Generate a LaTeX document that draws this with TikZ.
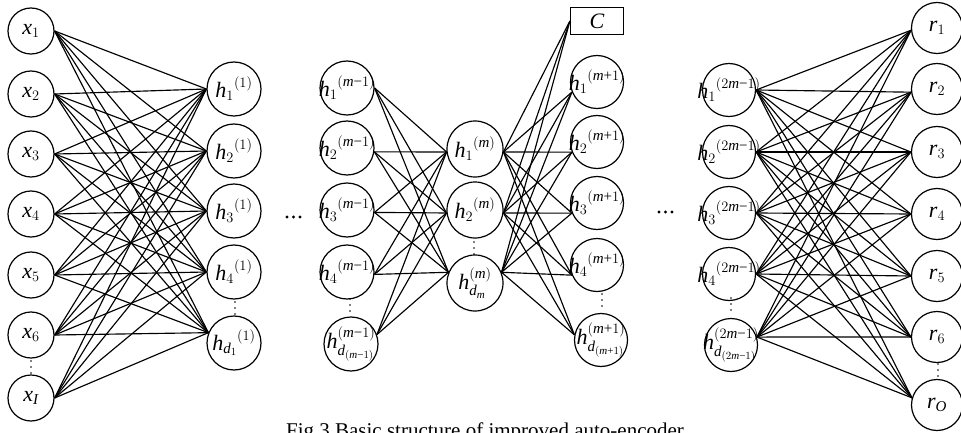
\documentclass[tikz,border=0pt]{standalone}
\usepackage{amsmath}
\usepackage{fontspec}
\setmainfont{Liberation Serif}
\DeclareMathSizes{22}{22}{15}{11}
\newcommand{\mneg}{\text{−}}
\newcommand{\mpl}{\text{+}}
\begin{document}
\begin{tikzpicture}[x=1pt,y=-1pt,
  neu/.style={circle, draw, line width=1.2pt, inner sep=0pt},
  xs/.style={neu, minimum size=46pt},
  hs/.style={neu, minimum size=54pt},
  hms/.style={neu, minimum size=56pt},
  hps/.style={neu, minimum size=53pt},
  rs/.style={neu, minimum size=51pt},
  lab/.style={font=\fontsize{22}{26}\selectfont, inner sep=0pt},
  conn/.style={line width=1.15pt},
  cbox/.style={draw, line width=1.2pt, minimum width=53pt, minimum height=27pt, inner sep=0pt, font=\fontsize{22}{26}\selectfont}]
\useasboundingbox (0,0) rectangle (961,433);
\clip (0,0) rectangle (961,433);
% input layer
\node[xs, label={[lab]center:$\mathit{x}_1$}] (x1) at (31,31) {};
\node[xs, label={[lab]center:$\mathit{x}_2$}] (x2) at (31,94) {};
\node[xs, label={[lab]center:$\mathit{x}_3$}] (x3) at (31,154) {};
\node[xs, label={[lab]center:$\mathit{x}_4$}] (x4) at (31,214) {};
\node[xs, label={[lab]center:$\mathit{x}_5$}] (x5) at (31,275) {};
\node[xs, label={[lab]center:$\mathit{x}_6$}] (x6) at (31,335) {};
\node[xs, label={[lab]center:$\mathit{x}_{\mathit{I}}$}] (x7) at (31,398) {};
% hidden layer 1
\node[hs, label={[lab]center:${\mathit{h}_1}^{(1)}$}] (a1) at (234,89) {};
\node[hs, label={[lab]center:${\mathit{h}_2}^{(1)}$}] (a2) at (234,151) {};
\node[hs, label={[lab]center:${\mathit{h}_3}^{(1)}$}] (a3) at (234,211) {};
\node[hs, label={[lab]center:${\mathit{h}_4}^{(1)}$}] (a4) at (234,272) {};
\node[hs, label={[lab]center:${\mathit{h}_{\mathit{d}_1}}^{(1)}$}] (a5) at (234,343) {};
% hidden layer m-1
\node[hs, label={[lab]center:${\mathit{h}_1}^{(\mathit{m}\mneg1)}$}] (b1) at (347,88) {};
\node[hs, label={[lab]center:${\mathit{h}_2}^{(\mathit{m}\mneg1)}$}] (b2) at (347,148) {};
\node[hs, label={[lab]center:${\mathit{h}_3}^{(\mathit{m}\mneg1)}$}] (b3) at (347,210) {};
\node[hs, label={[lab]center:${\mathit{h}_4}^{(\mathit{m}\mneg1)}$}] (b4) at (347,272) {};
\node[hs, label={[lab]center:$\mathit{h}_{\mathit{d}_{(\mathit{m}\mneg1)}}^{(\mathit{m}\mneg1)}$}] (b5) at (351,344) {};
% hidden layer m
\node[hms, label={[lab]center:${\mathit{h}_1}^{(\mathit{m})}$}] (c1) at (475,149) {};
\node[hms, label={[lab]center:${\mathit{h}_2}^{(\mathit{m})}$}] (c2) at (475,210) {};
\node[hms, label={[lab]center:$\mathit{h}_{\mathit{d}_\mathit{m}}^{(\mathit{m})}$}] (c3) at (475,283) {};
% C box
\node[cbox] (C) at (597,21) {$\mathit{C}$};
% hidden layer m+1
\node[hps, label={[lab]center:${\mathit{h}_1}^{(\mathit{m}\mpl1)}$}] (d1) at (597,82) {};
\node[hps, label={[lab]center:${\mathit{h}_2}^{(\mathit{m}\mpl1)}$}] (d2) at (597,142) {};
\node[hps, label={[lab]center:${\mathit{h}_3}^{(\mathit{m}\mpl1)}$}] (d3) at (597,203) {};
\node[hps, label={[lab]center:${\mathit{h}_4}^{(\mathit{m}\mpl1)}$}] (d4) at (597,265) {};
\node[hps, label={[lab]center:$\mathit{h}_{\mathit{d}_{(\mathit{m}\mpl1)}}^{(\mathit{m}\mpl1)}$}] (d5) at (601,340) {};
% hidden layer 2m-1
\node[hps, label={[lab]center:${\mathit{h}_1}^{(2\mathit{m}\mneg1)}$}] (e1) at (729,90) {};
\node[hps, label={[lab]center:${\mathit{h}_2}^{(2\mathit{m}\mneg1)}$}] (e2) at (729,152) {};
\node[hps, label={[lab]center:${\mathit{h}_3}^{(2\mathit{m}\mneg1)}$}] (e3) at (729,213) {};
\node[hps, label={[lab]center:${\mathit{h}_4}^{(2\mathit{m}\mneg1)}$}] (e4) at (729,274) {};
\node[hps, label={[lab]center:$\mathit{h}_{\mathit{d}_{(2\mathit{m}\mneg1)}}^{(2\mathit{m}\mneg1)}$}] (e5) at (731,345) {};
% output layer
\node[rs, label={[lab]center:$\mathit{r}_1$}] (r1) at (937,28) {};
\node[rs, label={[lab]center:$\mathit{r}_2$}] (r2) at (937,89) {};
\node[rs, label={[lab]center:$\mathit{r}_3$}] (r3) at (937,152) {};
\node[rs, label={[lab]center:$\mathit{r}_4$}] (r4) at (937,214) {};
\node[rs, label={[lab]center:$\mathit{r}_5$}] (r5) at (937,276) {};
\node[rs, label={[lab]center:$\mathit{r}_6$}] (r6) at (937,337) {};
\node[rs, label={[lab]center:$\mathit{r}_{\mathit{O}}$}] (r7) at (937,405) {};
% connectors
\foreach \s in {x1.east,x2.east,x3.east,x4.east,x5.east,x6.east,x7.east}
  \foreach \t in {a1.west,a2.west,a3.west,a4.west,a5.158}
    \draw[conn] (\s) -- (\t);
\foreach \s in {b1.east,b2.352,b3.355,b4.355,b5.20}
  \foreach \t in {c1.186,c2.186,c3.158}
    \draw[conn] (\s) -- (\t);
\foreach \s in {c1.354,c2.354,c3.22}
  \foreach \t in {d1.202,d2.202,d3.202,d4.202,d5.169,C.west}
    \draw[conn] (\s) -- (\t);
\foreach \s in {e1.east,e2.east,e3.east,e4.east,e5.17}
  \foreach \t in {r1.185,r2.187,r3.west,r4.west,r5.west,r6.west,r7.164}
    \draw[conn] (\s) -- (\t);
% vertical ellipses
\foreach \px/\py in {31/361,235/302,350/299,474/242,602/294,731/298,938/364}
  \foreach \k in {0,6,12}
    \fill (\px,\py+\k) circle (0.85pt);
% horizontal ellipses
\foreach \px/\py in {287/217,659/212}
  \foreach \k in {0,6.5,13}
    \fill (\px+\k,\py) circle (1.7pt);
% caption
\node[font=\fontsize{21}{25}\selectfont, anchor=base, inner sep=0pt] (cap) at (485,437) {Fig 3 Basic structure of improved auto-encoder};
\end{tikzpicture}
\end{document}
